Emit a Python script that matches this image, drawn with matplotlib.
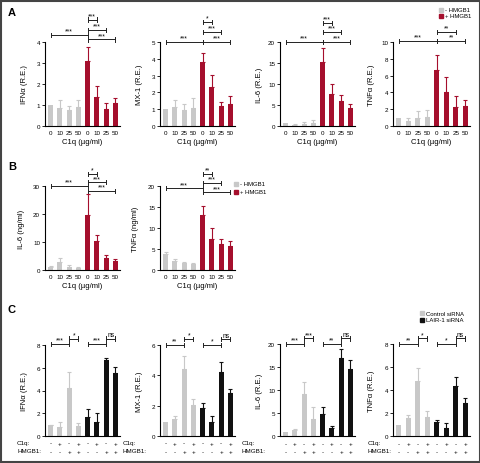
import numpy as np
import matplotlib
matplotlib.use('Agg')
import matplotlib.pyplot as plt
from matplotlib.patches import Rectangle

plt.rcParams['font.family'] = ['Liberation Sans', 'DejaVu Sans']

GRAY = '#c8c8c8'
RED = '#a50f2d'
BLACK = '#111111'

dose_labels = ['0', '10', '25', '50', '0', '10', '25', '50']
c1q_signs = ['-', '+', '-', '+', '-', '+', '-', '+']
hmgb1_signs = ['-', '-', '+', '+', '-', '-', '+', '+']

# panel A (relative expression)
a_ifn_mean = [1.0, 0.85, 0.75, 0.92, 3.1, 1.4, 0.8, 1.08]
a_ifn_err = [0, 0.4, 0.2, 0.33, 0.65, 0.5, 0.3, 0.27]
a_mx1_mean = [1.0, 1.15, 0.97, 1.1, 3.8, 2.35, 1.17, 1.3]
a_mx1_err = [0, 0.4, 0.33, 0.58, 0.55, 0.67, 0.25, 0.48]
a_il6_mean = [0.8, 0.3, 0.5, 0.6, 15.2, 7.7, 5.9, 4.2]
a_il6_err = [0, 0.2, 0.5, 0.9, 3.3, 2.3, 1.4, 1.0]
a_tnf_mean = [0.9, 0.6, 1.0, 1.05, 6.7, 4.1, 2.25, 2.35]
a_tnf_err = [0, 0.4, 0.75, 0.8, 1.8, 1.7, 1.3, 0.75]

# panel B (ng/ml)
b_il6_mean = [1.0, 2.8, 1.0, 0.6, 19.7, 10.4, 4.3, 3.3]
b_il6_err = [0.6, 1.4, 0.7, 0.3, 7.3, 2.0, 1.2, 0.5]
b_tnf_mean = [3.8, 2.1, 1.6, 1.5, 13.0, 7.4, 6.2, 5.7]
b_tnf_err = [0.6, 0.5, 0.4, 0.05, 2.2, 2.5, 1.1, 1.3]

# panel C (siRNA)
c_ifn_mean = [0.95, 0.8, 4.25, 0.9, 1.65, 1.2, 6.7, 5.5]
c_ifn_err = [0.05, 0.4, 1.4, 0.2, 0.75, 0.85, 0.15, 0.6]
c_mx1_mean = [0.95, 1.1, 4.4, 2.05, 1.85, 0.95, 4.25, 2.85]
c_mx1_err = [0, 0.2, 0.9, 0.4, 0.3, 0.35, 0.6, 0.25]
c_il6_mean = [0.8, 1.4, 9.1, 3.8, 4.7, 1.7, 17.0, 14.5]
c_il6_err = [0, 0.1, 2.6, 2.5, 1.6, 0.5, 1.9, 2.0]
c_tnf_mean = [0.95, 1.6, 4.8, 1.65, 1.2, 0.7, 4.35, 2.9]
c_tnf_err = [0, 0.25, 1.15, 0.5, 0.15, 0.4, 0.75, 0.4]

# significance brackets: (from bar, to bar, height, label)
a_ifn_sig = [(0, 4, 4.34, '***'), (4, 5, 5.07, '***'), (4, 6, 4.58, '***'), (4, 7, 4.12, '***')]
a_mx1_sig = [(0, 4, 5.0, '***'), (4, 5, 6.2, '*'), (4, 6, 5.6, '***'), (4, 7, 5.0, '***')]
a_il6_sig = [(0, 4, 20.0, '***'), (4, 5, 24.5, '***'), (4, 6, 22.4, '***'), (4, 7, 20.0, '***')]
a_tnf_sig = [(0, 4, 10.1, '***'), (4, 6, 11.2, '**'), (4, 7, 10.1, '**')]
b_il6_sig = [(0, 4, 30.0, '***'), (4, 5, 34.3, '*'), (4, 6, 31.3, '***'), (4, 7, 28.3, '***')]
b_tnf_sig = [(0, 4, 19.45, '***'), (4, 5, 22.9, '**'), (4, 6, 20.7, '***'), (4, 7, 18.5, '***')]
c_ifn_sig = [(0, 2, 8.07, '***'), (2, 3, 8.57, '*'), (4, 6, 8.07, '***'), (6, 7, 8.57, 'ns')]
c_mx1_sig = [(0, 2, 6.0, '**'), (2, 3, 6.4, '*'), (4, 6, 6.0, '*'), (6, 7, 6.4, 'ns')]
c_il6_sig = [(0, 2, 20.0, '***'), (2, 3, 21.2, '***'), (4, 6, 20.0, '**'), (6, 7, 21.2, 'ns')]
c_tnf_sig = [(0, 2, 8.0, '**'), (2, 3, 8.5, '*'), (4, 6, 8.0, '*'), (6, 7, 8.5, 'ns')]

W, H = 481, 464
fig = plt.figure(figsize=(W / 100, H / 100), dpi=100)


def px_axes(left, bottom_px, top_px, width=75):
    return fig.add_axes([left / W, 1 - bottom_px / H, width / W, (bottom_px - top_px) / H])


def bar_panel(ax, mean, err, colors, ymax, yticks, ylabel, sig, xlab=True):
    x = np.arange(len(mean))
    ax.bar(x, mean, width=0.55, color=colors, zorder=2)
    for xi, m, e, c in zip(x, mean, err, colors):
        if e > 0:
            ax.errorbar(xi, m, yerr=[[0], [e]], fmt='none', ecolor=c,
                        elinewidth=0.8, capsize=1.6, capthick=0.8, zorder=1)
    ax.set_xlim(-0.6, 7.5)
    ax.set_ylim(0, ymax)
    ax.set_yticks(yticks)
    ax.spines['top'].set_visible(False)
    ax.spines['right'].set_visible(False)
    for s in ['left', 'bottom']:
        ax.spines[s].set_linewidth(0.8)
    ax.tick_params(axis='y', length=2, width=0.6, labelsize=4.5, pad=1.5)
    ax.tick_params(axis='x', length=0, labelsize=4.5, pad=3)
    if xlab:
        ax.set_xticks(x)
        ax.set_xticklabels(dose_labels)
        ax.set_xlabel('C1q (µg/ml)', fontsize=5.5, labelpad=2)
    else:
        ax.set_xticks([])
    ax.set_ylabel(ylabel, fontsize=5.5)
    ax.yaxis.set_label_coords(-0.23, 0.5)
    tick = ymax * 0.025
    for a, b, h, lab in sig:
        ax.plot([a, b], [h, h], color='#222222', lw=0.7, clip_on=False)
        ax.plot([a, a], [h - tick, h + tick], color='#222222', lw=0.7, clip_on=False)
        ax.plot([b, b], [h - tick, h + tick], color='#222222', lw=0.7, clip_on=False)
        ax.text((a + b) / 2, h + tick * 0.15, lab, ha='center', va='bottom',
                fontsize=4.8, clip_on=False)


def sign_rows(ax, label_x):
    x = np.arange(8)
    trans = ax.get_xaxis_transform()
    for xi, s1, s2 in zip(x, c1q_signs, hmgb1_signs):
        ax.text(xi, -0.08, s1, transform=trans, ha='center', va='center', fontsize=4.5)
        ax.text(xi, -0.17, s2, transform=trans, ha='center', va='center', fontsize=4.5)
    fig.text(label_x / W, 1 - 444 / H, 'C1q:', ha='left', va='center', fontsize=4.5)
    fig.text(label_x / W, 1 - 452 / H, 'HMGB1:', ha='left', va='center', fontsize=4.5)


ab_colors = [GRAY] * 4 + [RED] * 4
c_colors = [GRAY] * 4 + [BLACK] * 4
lefts = [45, 160, 280, 393]

# A
ax = px_axes(lefts[0], 127, 43)
bar_panel(ax, a_ifn_mean, a_ifn_err, ab_colors, 4, [0, 1, 2, 3, 4], 'IFNα (R.E.)', a_ifn_sig)
ax = px_axes(lefts[1], 127, 43)
bar_panel(ax, a_mx1_mean, a_mx1_err, ab_colors, 5, [0, 1, 2, 3, 4, 5], 'MX-1 (R.E.)', a_mx1_sig)
ax = px_axes(lefts[2], 127, 43)
bar_panel(ax, a_il6_mean, a_il6_err, ab_colors, 20, [0, 5, 10, 15, 20], 'IL-6 (R.E.)', a_il6_sig)
ax = px_axes(lefts[3], 127, 43, 77)
bar_panel(ax, a_tnf_mean, a_tnf_err, ab_colors, 10, [0, 2, 4, 6, 8, 10], 'TNFα (R.E.)', a_tnf_sig)

# B
ax = px_axes(lefts[0], 271, 187)
bar_panel(ax, b_il6_mean, b_il6_err, ab_colors, 30, [0, 10, 20, 30], 'IL-6 (ng/ml)', b_il6_sig)
ax.yaxis.set_label_coords(-0.27, 0.5)
ax = px_axes(lefts[1], 271, 187)
bar_panel(ax, b_tnf_mean, b_tnf_err, ab_colors, 20, [0, 5, 10, 15, 20], 'TNFα (ng/ml)', b_tnf_sig)
ax.yaxis.set_label_coords(-0.28, 0.5)

# C
ax = px_axes(lefts[0], 437, 346)
bar_panel(ax, c_ifn_mean, c_ifn_err, c_colors, 8, [0, 2, 4, 6, 8], 'IFNα (R.E.)', c_ifn_sig, xlab=False)
sign_rows(ax, 17)
ax = px_axes(lefts[1], 437, 346)
bar_panel(ax, c_mx1_mean, c_mx1_err, c_colors, 6, [0, 2, 4, 6], 'MX-1 (R.E.)', c_mx1_sig, xlab=False)
sign_rows(ax, 123)
ax = px_axes(lefts[2], 437, 345)
bar_panel(ax, c_il6_mean, c_il6_err, c_colors, 20, [0, 5, 10, 15, 20], 'IL-6 (R.E.)', c_il6_sig, xlab=False)
sign_rows(ax, 242)
ax = px_axes(lefts[3], 437, 345, 77)
bar_panel(ax, c_tnf_mean, c_tnf_err, c_colors, 8, [0, 2, 4, 6, 8], 'TNFα (R.E.)', c_tnf_sig, xlab=False)
sign_rows(ax, 368)


def legend_box(x, y, color, text):
    fig.patches.append(Rectangle((x / W, 1 - (y + 4) / H), 4 / W, 4 / H,
                                 transform=fig.transFigure, color=color))
    fig.text((x + 6) / W, 1 - (y + 2) / H, text, ha='left', va='center', fontsize=4.3)


legend_box(439, 9, GRAY, '- HMGB1')
legend_box(439, 15, RED, '+ HMGB1')
legend_box(234, 183, GRAY, '- HMGB1')
legend_box(234, 191, RED, '+ HMGB1')
legend_box(420, 312, GRAY, 'Control siRNA')
legend_box(420, 319, BLACK, 'LAIR-1 siRNA')

fig.text(8 / W, 1 - 13 / H, 'A', fontsize=8, fontweight='bold', va='center')
fig.text(8 / W, 1 - 167 / H, 'B', fontsize=8, fontweight='bold', va='center')
fig.text(8 / W, 1 - 310 / H, 'C', fontsize=8, fontweight='bold', va='center')

# outer frame
fig.patches.append(Rectangle((0.002, 0.002), 0.996, 0.994, transform=fig.transFigure,
                             fill=False, edgecolor='#444444', lw=1.5))

fig.savefig('out.png', dpi=100)
